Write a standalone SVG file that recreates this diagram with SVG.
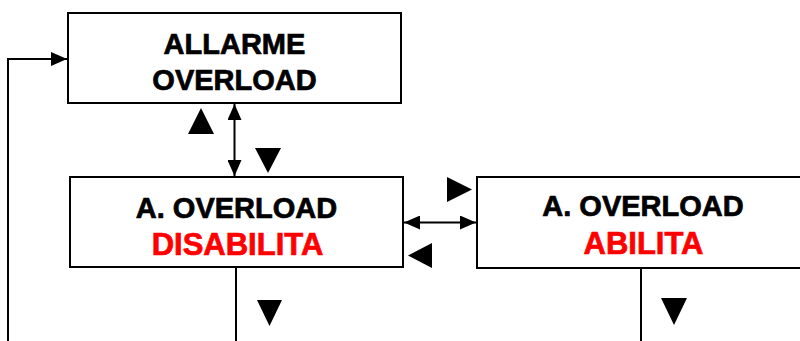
<svg xmlns="http://www.w3.org/2000/svg" width="800" height="341" viewBox="0 0 800 341">
<defs>
<style>
.box{fill:#fff;stroke:#000;stroke-width:2}
.ln{fill:none;stroke:#000;stroke-width:2}
.t{font-family:"Liberation Sans",Arial,sans-serif;font-weight:bold;font-size:29px;text-anchor:middle;fill:#000;stroke:#000;stroke-width:0.7}
.r{fill:#ff0000;stroke:#ff0000;font-size:31px}
.tri{fill:#000}
</style>
<marker id="ah" viewBox="0 0 16 14" refX="16" refY="7" markerWidth="16" markerHeight="14" markerUnits="userSpaceOnUse" orient="auto-start-reverse">
<path d="M0,0 L16,7 L0,14 Z" fill="#000"/>
</marker>
</defs>
<rect width="800" height="341" fill="#fff"/>
<g id="n1">
<rect class="box" x="68" y="13" width="333" height="90"/>
<text class="t" x="234.5" y="54">ALLARME</text>
<text class="t" x="234.5" y="90">OVERLOAD</text>
</g>
<g id="n2">
<rect class="box" x="70" y="177" width="333" height="90"/>
<text class="t" x="236.5" y="218">A. OVERLOAD</text>
<text class="t r" x="237.5" y="255">DISABILITA</text>
</g>
<g id="n3">
<rect class="box" x="477" y="177" width="340" height="91"/>
<text class="t" x="643" y="216">A. OVERLOAD</text>
<text class="t r" x="643.5" y="254">ABILITA</text>
</g>
<g id="connectors">
<line class="ln" x1="234.5" y1="104" x2="234.5" y2="176" marker-start="url(#ah)" marker-end="url(#ah)"/>
<line class="ln" x1="404" y1="222.5" x2="476" y2="222.5" marker-start="url(#ah)" marker-end="url(#ah)"/>
<line class="ln" x1="236" y1="268" x2="236" y2="341"/>
<line class="ln" x1="641" y1="269" x2="641" y2="341"/>
<polyline class="ln" points="8,341 8,59 67,59" marker-end="url(#ah)"/>
</g>
<g id="symbols">
<polygon class="tri" points="201,108 214,134 188,134"/>
<polygon class="tri" points="255,148 281,148 268,173"/>
<polygon class="tri" points="447,177 472,189.5 447,202"/>
<polygon class="tri" points="432,243 432,268 408,255.5"/>
<polygon class="tri" points="257,300 282,300 269.5,326"/>
<polygon class="tri" points="661,298 687,298 674,325"/>
</g>
</svg>
